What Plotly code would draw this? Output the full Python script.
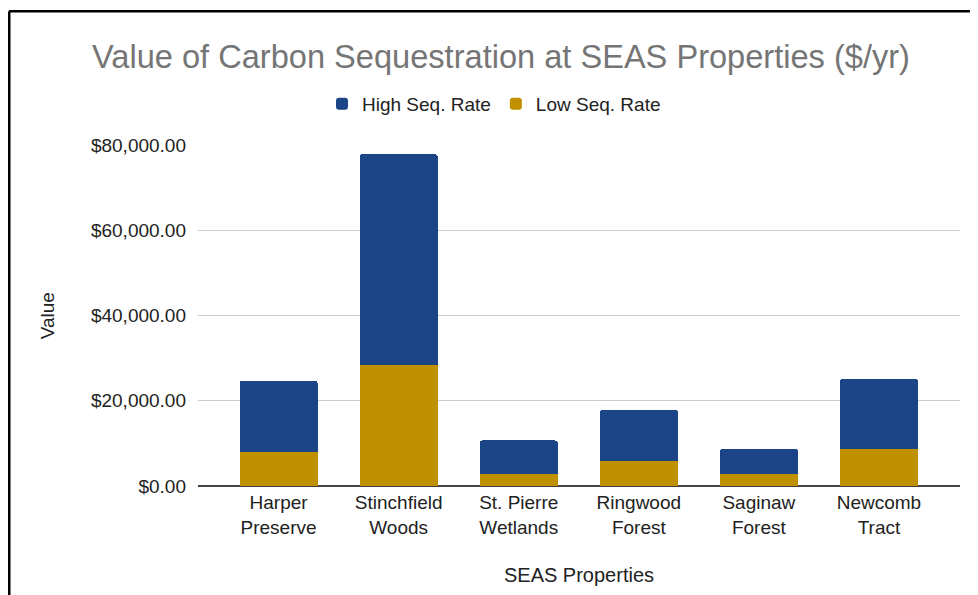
import plotly.graph_objects as go

categories = ["Harper<br>Preserve", "Stinchfield<br>Woods", "St. Pierre<br>Wetlands",
              "Ringwood<br>Forest", "Saginaw<br>Forest", "Newcomb<br>Tract"]
low_rate = [8100, 28500, 2700, 5800, 2700, 8800]
high_rate = [16600, 49400, 8000, 12100, 6050, 16300]
y_ticks = [0, 20000, 40000, 60000, 80000]

BLUE = "#1c4587"
GOLD = "#bf9000"
FONT = "Arial, Liberation Sans, sans-serif"

fig = go.Figure()
fig.add_trace(go.Bar(x=categories, y=low_rate, name="Low Seq. Rate",
                     marker=dict(color=GOLD, line=dict(width=0))))
fig.add_trace(go.Bar(x=categories, y=high_rate, name="High Seq. Rate",
                     marker=dict(color=BLUE, line=dict(width=0))))

# the page body has an 8px margin, so work in page pixels minus 8
OFF = 8
W, H = 978 - OFF, 595 - OFF
L, R, T, B = 198 - OFF, 960 - OFF, 145 - OFF, 488 - OFF
pw, ph = R - L, B - T
def px_x(x):
    return (x - OFF - L) / pw
def px_y(y):
    return (B - (y - OFF)) / ph

fig.update_layout(
    width=W, height=H,
    margin=dict(l=L, r=W - R, t=T, b=H - B),
    paper_bgcolor="white", plot_bgcolor="white",
    barmode="stack", bargap=0.35, barcornerradius=3,
    font=dict(family=FONT, size=19, color="#222222"),
    title=dict(text="Value of Carbon Sequestration at SEAS Properties ($/yr)",
               font=dict(family=FONT, size=32.6, color="#757575"),
               x=(501 - OFF) / W, xref="container", xanchor="center",
               y=1 - (57 - OFF) / H, yref="container", yanchor="middle"),
    legend=dict(orientation="h", traceorder="reversed",
                x=(494 - OFF) / W, xref="container", xanchor="center",
                y=1 - (104 - OFF) / H, yref="container", yanchor="middle",
                font=dict(family=FONT, size=19, color="#222222"),
                itemwidth=30),
    xaxis=dict(range=[-0.671, 5.675], showgrid=False, showline=False, zeroline=False,
               ticks="", ticklabelstandoff=3, tickfont=dict(size=19, color="#222222"),
               title=dict(text="SEAS Properties", font=dict(size=20, color="#222222"),
                          standoff=31)),
    yaxis=dict(range=[0, 80000], tickvals=y_ticks, tickformat="$,.2f",
               showgrid=True, gridcolor="#cccccc", gridwidth=1,
               zeroline=True, zerolinecolor="#444444", zerolinewidth=2,
               ticks="", ticklabelstandoff=11,
               tickfont=dict(size=19, color="#222222"),
               title=dict(text="Value", font=dict(size=19, color="#222222"), standoff=31)),
    shapes=[
        dict(type="line", xref="paper", yref="paper",
             x0=px_x(9), x1=px_x(990), y0=px_y(10), y1=px_y(10),
             line=dict(color="black", width=2.5)),
        dict(type="line", xref="paper", yref="paper",
             x0=px_x(9), x1=px_x(9), y0=px_y(10), y1=px_y(600),
             line=dict(color="black", width=3)),
    ],
)

fig.write_html("out.html")
